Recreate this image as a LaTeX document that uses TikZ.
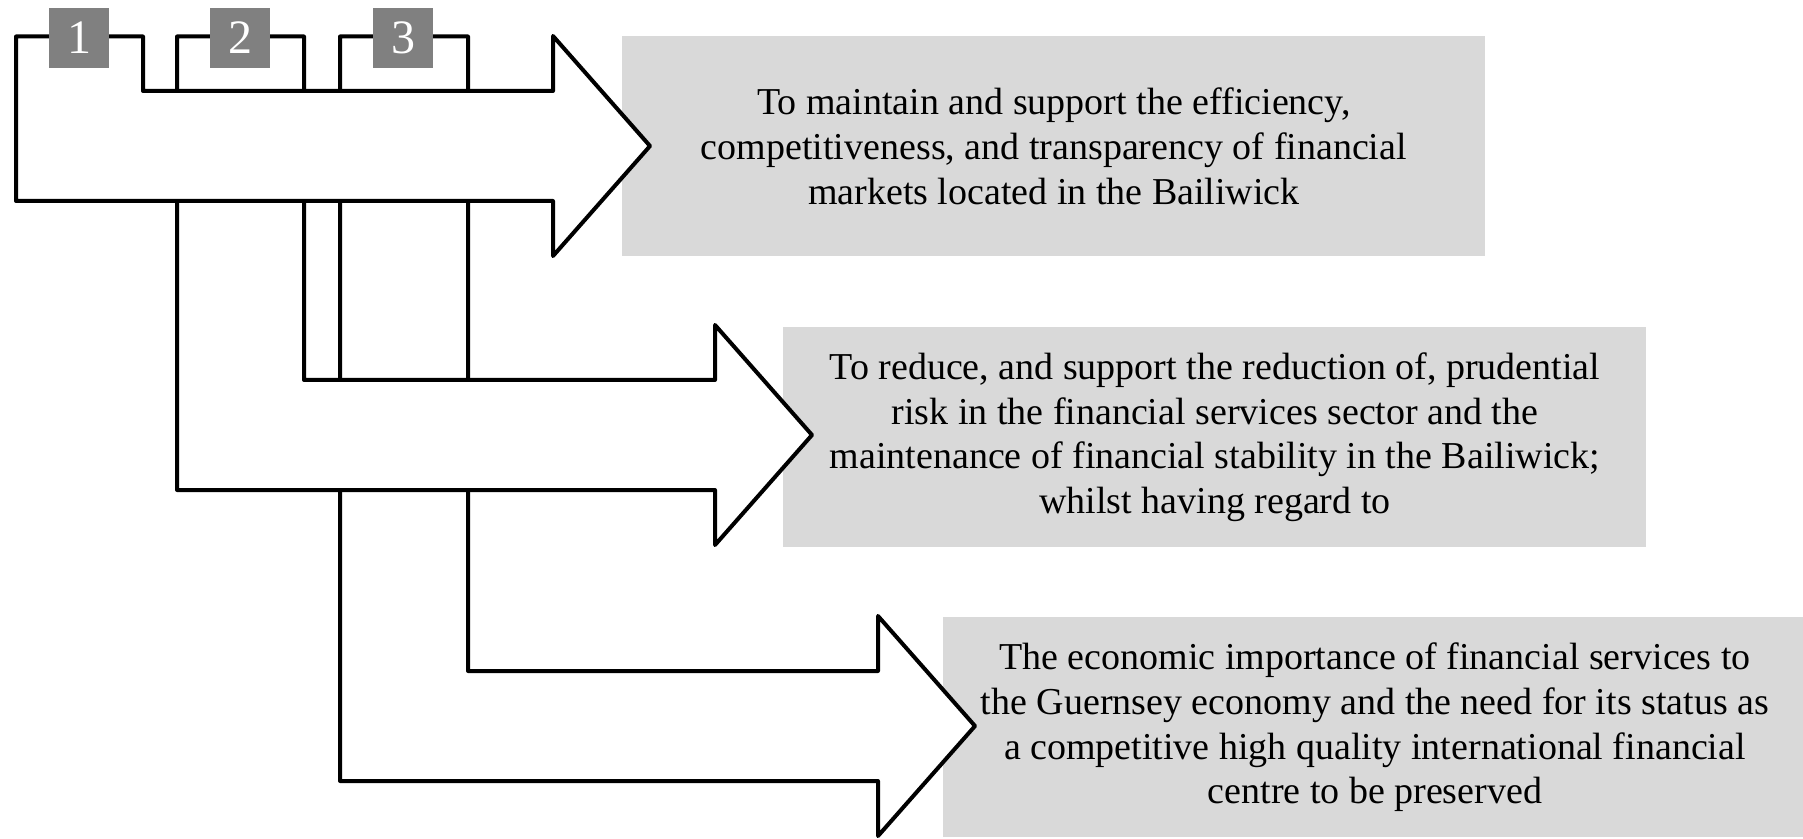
\documentclass[tikz,border=0pt]{standalone}
\usepackage{fontspec}
\setmainfont{Liberation Serif}
\usepackage{tikz}
\usetikzlibrary{positioning}
\definecolor{goalgray}{HTML}{D9D9D9}
\definecolor{tabgray}{HTML}{808080}
\tikzset{blockarrow/.style={ % Sets the properties for each bent arrow
            draw=black,
            fill=white,
            line width=2pt,
            line join=round},
        goal/.style={ % Grey boxes with the objectives
            fill=goalgray,
            anchor=north west,
            minimum width=431.5pt,
            minimum height=110pt,
            inner sep=0pt,
            align=center,
            font=\fontsize{19}{22.3}\selectfont},
        numbox/.style={ % Numbered tabs on top of the arrows
            fill=tabgray,
            text=white,
            minimum size=30pt,
            inner sep=0pt,
            font=\fontsize{24}{24}\selectfont}
        }

\begin{document}
\begin{tikzpicture}[x=0.5pt,y=-0.5pt]
    \useasboundingbox (0,0) rectangle (1803,839);
    \node[goal] (g1) at (622,36) {To maintain and support the efficiency,\\
        competitiveness, and transparency of financial\\
        markets located in the Bailiwick};
    \node[goal] (g2) at (783,327) {To reduce, and support the reduction of, prudential\\
        risk in the financial services sector and the\\
        maintenance of financial stability in the Bailiwick;\\
        whilst having regard to};
    \node[goal] (g3) at (943,617) {The economic importance of financial services to\\
        the Guernsey economy and the need for its status as\\
        a competitive high quality international financial\\
        centre to be preserved};
    % arrows drawn from the lowest up, so arrow 1 lies on top
    \foreach \xl/\xr/\yt/\xh in {340/468/671/878, 177/304/380/715, 16/143/91/553}
        \draw[blockarrow] (\xl,36.5) -- (\xr,36.5) -- (\xr,\yt) -- (\xh,\yt)
            -- (\xh,\yt-55) -- (\xh+97,\yt+55) -- (\xh,\yt+165)
            -- (\xh,\yt+110) -- (\xl,\yt+110) -- cycle;
    \foreach \n/\x in {1/79, 2/240, 3/403}
        \node[numbox] (num\n) at (\x,38) {\n};
\end{tikzpicture}
\end{document}
